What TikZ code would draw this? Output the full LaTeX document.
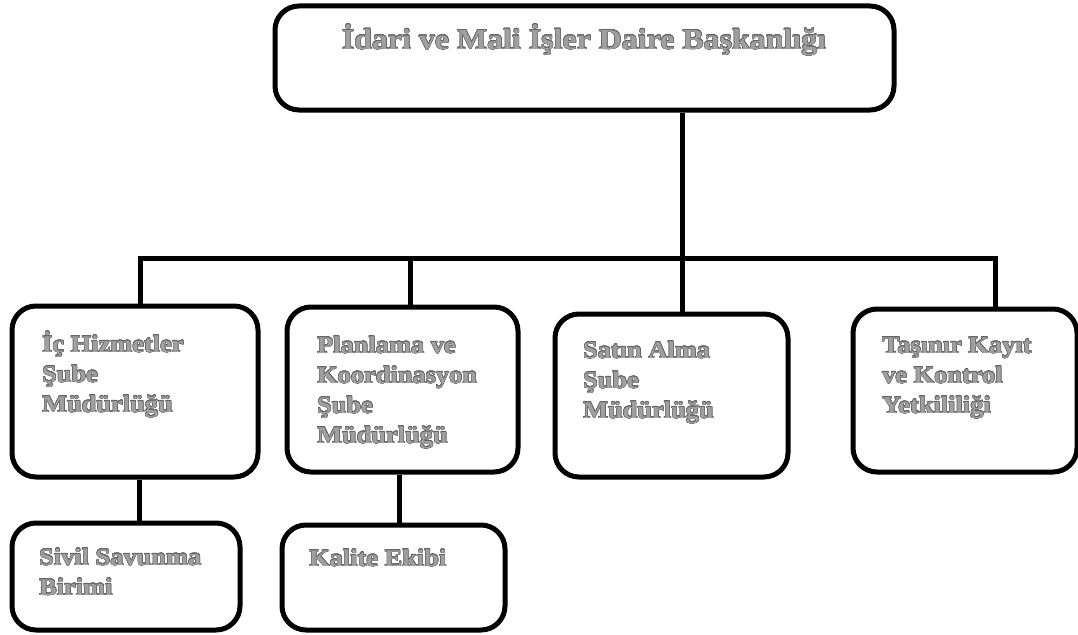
\documentclass[tikz,border=0pt]{standalone}
\usepackage{fontspec}
\setmainfont{Liberation Serif}[FakeStretch=1.1]
\usepackage{contour}
\contourlength{0.45pt}
\contournumber{16}
\definecolor{txtfill}{HTML}{A0A0A0}
\definecolor{txtline}{HTML}{656565}
\newcommand\ol[1]{\contour{txtline}{#1}}
\begin{document}
\begin{tikzpicture}[x=1pt,y=-1pt,
  box/.style={draw=black, line width=5pt, rounded corners=24pt, fill=white, inner sep=0pt},
  conn/.style={draw=black, line width=5pt},
  lbl/.style={anchor=base west, inner sep=0pt, align=left, font=\fontsize{24}{30}\selectfont\bfseries, text=txtfill},
  toplbl/.style={anchor=base, inner sep=0pt, font=\fontsize{29}{32}\selectfont\bfseries, text=txtfill}]
\useasboundingbox (0,0) rectangle (1078,634);
% top box
\node[box, minimum width=619, minimum height=104] (top) at (584.5,58) {};
\node[toplbl] (ttop) at (584,49) {\ol{İdari ve Mali İşler Daire Başkanlığı}};
% second row boxes
\node[box, minimum width=246, minimum height=171] (b1) at (135,391.5) {};
\node[box, minimum width=231, minimum height=165] (b2) at (402.5,389.5) {};
\node[box, minimum width=233, minimum height=163] (b3) at (671.5,395.5) {};
\node[box, minimum width=224, minimum height=163] (b4) at (965,390.5) {};
% third row boxes
\node[box, minimum width=228, minimum height=107] (b5) at (126,576.5) {};
\node[box, minimum width=223, minimum height=105] (b6) at (393.5,577.5) {};
% texts (anchor = baseline of last line)
\node[lbl] (t1) at (42,412) {\ol{İç Hizmetler}\\\ol{Şube}\\\ol{Müdürlüğü}};
\node[lbl] (t2) at (317,443) {\ol{Planlama ve}\\\ol{Koordinasyon}\\\ol{Şube}\\\ol{Müdürlüğü}};
\node[lbl] (t3) at (583,418) {\ol{Satın Alma}\\\ol{Şube}\\\ol{Müdürlüğü}};
\node[lbl] (t4) at (882,413) {\ol{Taşınır Kayıt}\\\ol{ve Kontrol}\\\ol{Yetkililiği}};
\node[lbl] (t5) at (39,595) {\ol{Sivil Savunma}\\\ol{Birimi}};
\node[lbl] (t6) at (309,566) {\ol{Kalite Ekibi}};
% bus
\coordinate (j0) at (682.5,258);
\coordinate (j1) at (140,258);
\coordinate (j2) at (410,258);
\coordinate (j3) at (682.5,258);
\coordinate (j4) at (995,258);
\coordinate (k1) at (139,0);
\coordinate (k2) at (399,0);
\draw[conn] (j0 |- top.south) -- (j0);
\draw[conn, line cap=rect] (j1) -- (j4);
\draw[conn] (j1) -- (j1 |- b1.north);
\draw[conn] (j2) -- (j2 |- b2.north);
\draw[conn] (j3) -- (j3 |- b3.north);
\draw[conn] (j4) -- (j4 |- b4.north);
\draw[conn] (k1 |- b1.south) -- (k1 |- b5.north);
\draw[conn] (k2 |- b2.south) -- (k2 |- b6.north);
\end{tikzpicture}
\end{document}
